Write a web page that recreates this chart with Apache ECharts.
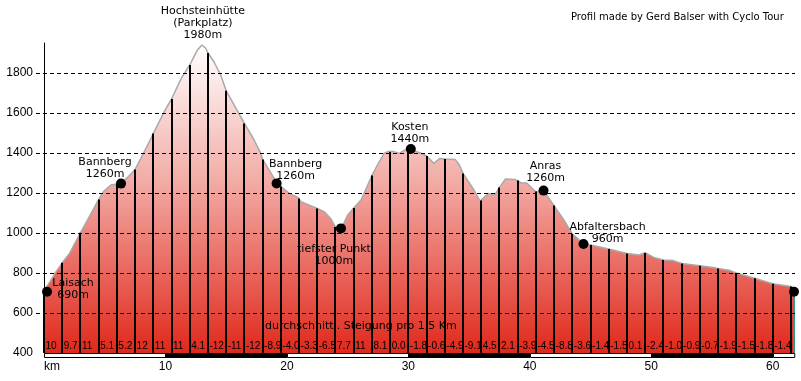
<!DOCTYPE html>
<html><head><meta charset="utf-8">
<script src="https://cdn.jsdelivr.net/npm/echarts@6/dist/echarts.min.js"></script>
<style>html,body{margin:0;padding:0;background:#fff}#c{width:801px;height:381px}</style>
</head><body><div id="c"></div>
<script>
// ---- data ----
const profileKm = [0, 0.5, 0.9, 1.5, 2.1, 3.0, 3.8, 4.5, 4.9, 5.5, 6.0, 6.3, 6.8, 7.5, 8.2, 9.0, 9.9, 10.5, 11.3, 12.0, 12.6, 13.0, 13.3, 13.5, 14.0, 14.55, 15.0, 16.5, 17.3, 17.85, 18.0, 18.7, 19.2, 19.5, 20.2, 20.9, 21.15, 22.0, 22.5, 23.06, 23.6, 24.0, 24.45, 25.0, 25.5, 26.1, 26.6, 27.0, 27.45, 28.0, 28.3, 28.8, 29.25, 29.8, 30.2, 30.4, 31.0, 31.5, 32.1, 32.6, 33.0, 33.85, 34.2, 34.5, 35.4, 35.9, 36.0, 36.6, 37.1, 37.5, 38.0, 38.8, 39.3, 39.75, 40.45, 41.2, 41.95, 42.8, 43.5, 44.4, 45.0, 46.5, 48.0, 49.0, 49.5, 50.2, 51.0, 51.8, 52.5, 54.0, 55.1, 55.5, 56.5, 57.0, 58.5, 60.0, 61.5, 61.75];
const profileElev = [712, 757, 798, 851, 898, 1001, 1090, 1168, 1207, 1240, 1245, 1248, 1273, 1318, 1400, 1497, 1607, 1670, 1773, 1840, 1912, 1940, 1925, 1900, 1855, 1790, 1711, 1548, 1465, 1398, 1368, 1298, 1248, 1232, 1198, 1178, 1157, 1135, 1123, 1107, 1073, 1030, 1018, 1090, 1125, 1165, 1232, 1287, 1340, 1398, 1407, 1407, 1398, 1418, 1423, 1412, 1400, 1385, 1348, 1373, 1370, 1368, 1340, 1298, 1215, 1160, 1162, 1198, 1188, 1228, 1270, 1267, 1250, 1250, 1207, 1207, 1140, 1065, 995, 948, 940, 920, 898, 890, 902, 878, 865, 862, 848, 836, 828, 823, 812, 800, 774, 746, 732, 725];

const SEGMENT_KM = 1.5;
const boundaryElev = [712, 851, 1001, 1168, 1245, 1318, 1497, 1670, 1840, 1900, 1711, 1548, 1368, 1232, 1173, 1123, 1030, 1125, 1287, 1405, 1420, 1385, 1370, 1298, 1162, 1228, 1262, 1207, 1137, 995, 940, 920, 898, 900, 865, 848, 836, 823, 800, 774, 746, 732];
const gradientLabels = ['10','9.7','11','5.1','5.2','12','11','11','4.1','-12','-11','-12','-8.9','-4.0','-3.3','-6.5','7.7','11','8.1','0.0','-1.8','-0.6','-4.9','-9.1','4.5','2.1','-3.9','-4.5','-8.8','-3.6','-1.4','-1.5','0.1','-2.4','-1.0','-0.9','-0.7','-1.9','-1.5','-1.8','-1.4'];
const endKm = 61.75;
const endElev = 706;

const waypointLabels = ['Laisach\n690m','Bannberg\n1260m','Hochsteinhütte\n(Parkplatz)\n1980m','Bannberg\n1260m','tiefster Punkt\n1000m','Kosten\n1440m','Anras\n1260m','Abfaltersbach\n960m',''];
const waypointKm = [0.25, 6.34, 13.0, 19.15, 24.45, 30.2, 41.13, 44.42, 61.75];
const waypointElev = [706, 1247, 1940, 1248, 1023, 1420, 1212, 945, 706];

const yGridValues = [600, 800, 1000, 1200, 1400, 1600, 1800];
const xTickKm = [10, 20, 30, 40, 50, 60];
const scaleBandKm = [0, 10, 20, 30, 40, 50, 60, 61.75];
const Y_MIN = 400, Y_MAX = 1950;

// ---- chart ----
const chart = echarts.init(document.getElementById('c'), null, {renderer: 'canvas'});
const FONT = '"Liberation Sans", Arial, sans-serif';
const LFONT = '"DejaVu Sans", Verdana, sans-serif';

const lineData = boundaryElev.map((e, i) => [i * SEGMENT_KM, e]);
lineData.push([endKm, endElev]);
const bands = [];
for (let i = 0; i < scaleBandKm.length - 1; i++) bands.push([scaleBandKm[i], scaleBandKm[i + 1]]);

const labelOffsets = [[26,-3],[-16,-15.5],[1,-22],[19,-13],[-7,27],[-1,-16],[2,-18],[24,-11],[0,0]];

const option = {
  animation: false,
  backgroundColor: '#fff',
  grid: {left: 44, right: 7, top: 43, bottom: 28},
  xAxis: {
    type: 'value', min: 0, max: endKm, interval: 10,
    axisLine: {show: false}, axisTick: {show: false}, splitLine: {show: false},
    axisLabel: {
      margin: 8, color: '#000', fontFamily: FONT, fontSize: 12,
      formatter: v => (xTickKm.indexOf(v) >= 0 ? String(v) : '')
    }
  },
  yAxis: {
    type: 'value', min: Y_MIN, max: Y_MAX, interval: 200,
    axisLine: {show: true, lineStyle: {color: '#000', width: 1}},
    axisTick: {show: false}, splitLine: {show: false},
    axisLabel: {
      margin: 11, color: '#000', fontFamily: FONT, fontSize: 12,
      formatter: v => (v % 200 === 0 ? String(v) : '')
    }
  },
  graphic: [
    {type: 'text', left: 44, top: 361, style: {text: 'km', font: '12px ' + FONT, fill: '#000'}},
    {type: 'text', x: 571, y: 17, style: {text: 'Profil made by Gerd Balser with Cyclo Tour', font: '10px ' + LFONT, fill: '#000', verticalAlign: 'middle'}, z: 100},
    {type: 'text', x: 265, y: 326, style: {text: 'durchschnittl. Steigung pro 1,5 Km', font: '11px ' + LFONT, fill: '#000', verticalAlign: 'middle'}, z: 100}
  ],
  series: [
    {
      type: 'line', z: 1,
      data: profileKm.map((k, i) => [k, profileElev[i]]),
      showSymbol: false, symbol: 'none',
      lineStyle: {color: '#a9a9a9', width: 1.5},
      areaStyle: {
        opacity: 1,
        color: {type: 'linear', x: 0, y: 0, x2: 0, y2: 1, colorStops: [
          {offset: 0, color: '#ffffff'},
          {offset: 0.45, color: '#f2aaa4'},
          {offset: 1, color: '#e0281b'}
        ]}
      }
    },
    {
      type: 'line', z: 3, data: [], clip: false, silent: true,
      markLine: {
        silent: true, symbol: 'none', label: {show: false},
        lineStyle: {color: '#000', type: [4, 3], width: 1},
        data: yGridValues.map(v => [{x: 36, yAxis: v}, {x: 795, yAxis: v}])
      }
    },
    {
      type: 'custom', z: 4, clip: false, silent: true,
      data: lineData,
      renderItem: (params, api) => {
        const top = api.coord([api.value(0), api.value(1)]);
        const bot = api.coord([api.value(0), Y_MIN]);
        const isEnd = params.dataIndex === lineData.length - 1;
        const x = Math.round(top[0]);
        return {type: 'line', shape: {x1: x, y1: bot[1], x2: x, y2: top[1]},
          style: {stroke: isEnd ? '#2a9a96' : '#000', lineWidth: 2}};
      }
    },
    {
      type: 'custom', z: 5, clip: false, silent: true,
      data: gradientLabels.map((g, i) => [i * SEGMENT_KM, Y_MIN]),
      renderItem: (params, api) => {
        const p = api.coord([api.value(0), api.value(1)]);
        return {type: 'text', style: {text: gradientLabels[params.dataIndex], x: p[0] + 1.5, y: p[1] - 7,
          font: '10px ' + FONT, fill: '#000', align: 'left', verticalAlign: 'middle'}};
      }
    },
    {
      type: 'custom', z: 6, clip: false, silent: true,
      data: bands,
      renderItem: (params, api) => {
        const a = api.coord([api.value(0), Y_MIN]);
        const b = api.coord([api.value(1), Y_MIN]);
        return {type: 'rect', shape: {x: Math.round(a[0]) + 0.5, y: Math.round(a[1]) + 0.5, width: b[0] - a[0], height: 4},
          style: {fill: params.dataIndex % 2 === 0 ? '#fff' : '#000', stroke: '#000', lineWidth: 1}};
      }
    },
    {
      type: 'scatter', z: 7, clip: false, silent: true,
      symbol: 'circle',
      itemStyle: {color: '#000', opacity: 1},
      label: {show: true, position: 'inside', align: 'center', verticalAlign: 'middle',
        color: '#000', opacity: 1, fontFamily: LFONT, fontSize: 11, lineHeight: 12},
      data: waypointKm.map((k, i) => ({
        value: [k, waypointElev[i]],
        symbolSize: i === 2 ? 0.1 : 10,
        label: {show: waypointLabels[i] !== '', formatter: waypointLabels[i], offset: labelOffsets[i]}
      }))
    }
  ]
};
chart.setOption(option);
</script></body></html>
